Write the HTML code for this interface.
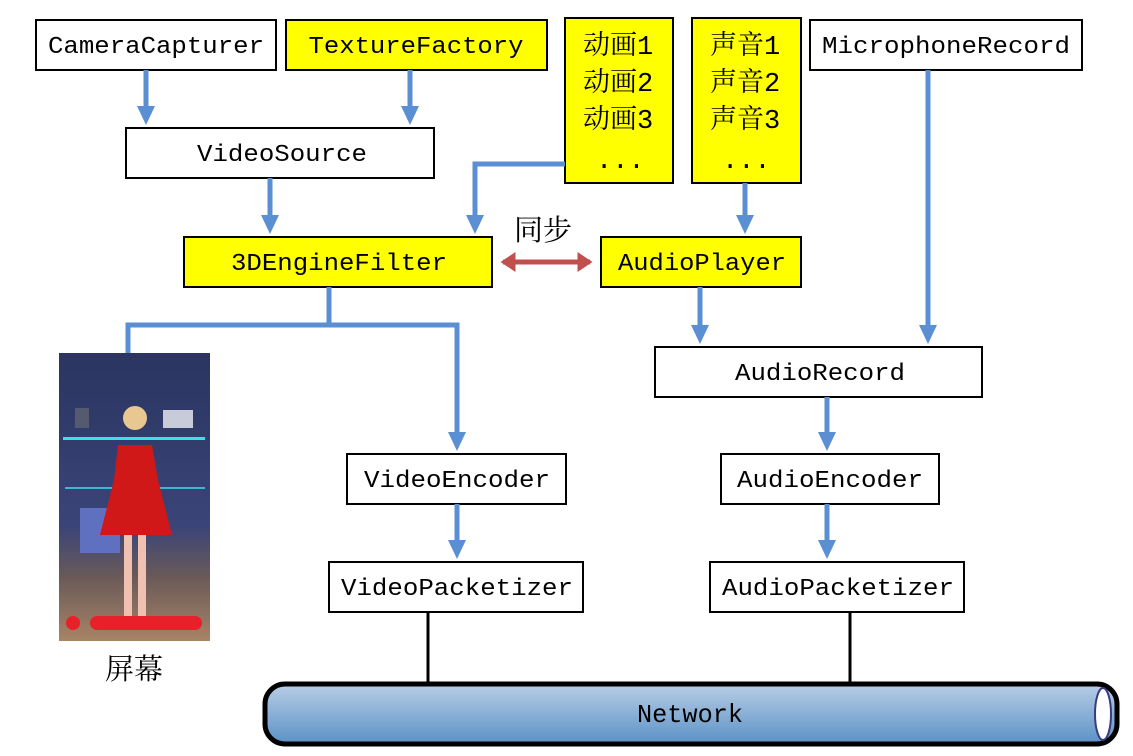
<!DOCTYPE html>
<html><head><meta charset="utf-8"><style>
html,body{margin:0;padding:0;background:#fff;width:1133px;height:756px;overflow:hidden}
text{font-family:"Liberation Mono","Noto Sans CJK SC",monospace;font-size:24px;fill:#000}
.cj{font-family:"Liberation Mono","Noto Serif CJK SC",serif;font-size:27px}
</style></head><body>
<svg width="1133" height="756" viewBox="0 0 1133 756" xmlns="http://www.w3.org/2000/svg">
<defs>
<marker id="ab" markerWidth="4" markerHeight="4" refX="2.2" refY="1.8" orient="auto" markerUnits="strokeWidth"><path d="M0,0 L3.8,1.8 L0,3.6 Z" fill="#5b8fd4"/></marker>
<marker id="ar" markerWidth="4" markerHeight="4" refX="2.5" refY="2" orient="auto-start-reverse" markerUnits="strokeWidth"><path d="M0,0 L3,2 L0,4 Z" fill="#c0504d"/></marker>
<linearGradient id="pipe" x1="0" y1="0" x2="0" y2="1"><stop offset="0" stop-color="#b9cde6"/><stop offset="1" stop-color="#5a92c6"/></linearGradient>
<linearGradient id="room" x1="0" y1="0" x2="0" y2="1"><stop offset="0" stop-color="#2b3560"/><stop offset="0.6" stop-color="#3a4478"/><stop offset="0.78" stop-color="#6a5a58"/><stop offset="1" stop-color="#a88466"/></linearGradient>
</defs>
<g stroke="#000" stroke-width="2">
<rect x="36" y="20" width="240" height="50" fill="#fff"/>
<rect x="286" y="20" width="261" height="50" fill="#ffff00"/>
<rect x="565" y="18" width="108" height="165" fill="#ffff00"/>
<rect x="692" y="18" width="109" height="165" fill="#ffff00"/>
<rect x="810" y="20" width="272" height="50" fill="#fff"/>
<rect x="126" y="128" width="308" height="50" fill="#fff"/>
<rect x="184" y="237" width="308" height="50" fill="#ffff00"/>
<rect x="601" y="237" width="200" height="50" fill="#ffff00"/>
<rect x="655" y="347" width="327" height="50" fill="#fff"/>
<rect x="347" y="454" width="219" height="50" fill="#fff"/>
<rect x="721" y="454" width="218" height="50" fill="#fff"/>
<rect x="329" y="562" width="254" height="50" fill="#fff"/>
<rect x="710" y="562" width="254" height="50" fill="#fff"/>
</g>
<g text-anchor="middle">
<text x="156" y="53" textLength="216" lengthAdjust="spacingAndGlyphs">CameraCapturer</text>
<text x="416" y="53" textLength="215" lengthAdjust="spacingAndGlyphs">TextureFactory</text>
<text x="946" y="53" textLength="248" lengthAdjust="spacingAndGlyphs">MicrophoneRecord</text>
<text x="282" y="161" textLength="170" lengthAdjust="spacingAndGlyphs">VideoSource</text>
<text x="339" y="270" textLength="216" lengthAdjust="spacingAndGlyphs">3DEngineFilter</text>
<text x="702" y="270" textLength="168" lengthAdjust="spacingAndGlyphs">AudioPlayer</text>
<text x="820" y="380" textLength="170" lengthAdjust="spacingAndGlyphs">AudioRecord</text>
<text x="457" y="487" textLength="186" lengthAdjust="spacingAndGlyphs">VideoEncoder</text>
<text x="830" y="487" textLength="186" lengthAdjust="spacingAndGlyphs">AudioEncoder</text>
<text x="457" y="595" textLength="232" lengthAdjust="spacingAndGlyphs">VideoPacketizer</text>
<text x="838" y="595" textLength="232" lengthAdjust="spacingAndGlyphs">AudioPacketizer</text>
</g>
<text class="cj" x="583" y="54">动画1</text>
<text class="cj" x="583" y="91">动画2</text>
<text class="cj" x="583" y="128">动画3</text>
<text class="cj" x="596" y="168">...</text>
<text class="cj" x="710" y="54">声音1</text>
<text class="cj" x="710" y="91">声音2</text>
<text class="cj" x="710" y="128">声音3</text>
<text class="cj" x="722" y="168">...</text>
<text class="cj" x="514" y="240" style="font-size:29px">同步</text>
<text class="cj" x="105" y="679" style="font-size:29px">屏幕</text>
<g stroke="#5b8fd4" stroke-width="5" fill="none">
<line x1="146" y1="70" x2="146" y2="117" marker-end="url(#ab)"/>
<line x1="410" y1="70" x2="410" y2="117" marker-end="url(#ab)"/>
<line x1="270" y1="178" x2="270" y2="226" marker-end="url(#ab)"/>
<polyline points="565,164 475,164 475,226" marker-end="url(#ab)"/>
<line x1="745" y1="183" x2="745" y2="226" marker-end="url(#ab)"/>
<line x1="928" y1="70" x2="928" y2="336" marker-end="url(#ab)"/>
<line x1="700" y1="287" x2="700" y2="336" marker-end="url(#ab)"/>
<line x1="827" y1="397" x2="827" y2="443" marker-end="url(#ab)"/>
<line x1="457" y1="504" x2="457" y2="551" marker-end="url(#ab)"/>
<line x1="827" y1="504" x2="827" y2="551" marker-end="url(#ab)"/>
<polyline points="329,287 329,325 128,325 128,353"/>
<polyline points="329,325 457,325 457,443" marker-end="url(#ab)"/>
</g>
<line x1="503" y1="262" x2="590" y2="262" stroke="#c0504d" stroke-width="5" marker-start="url(#ar)" marker-end="url(#ar)"/>
<g stroke="#000" stroke-width="3">
<line x1="428" y1="612" x2="428" y2="684"/>
<line x1="850" y1="612" x2="850" y2="684"/>
</g>
<rect x="265" y="684" width="852" height="60" rx="20" fill="url(#pipe)" stroke="#000" stroke-width="5"/>
<ellipse cx="1103" cy="714" rx="8" ry="26" fill="#fff" stroke="#3a3a80" stroke-width="2"/>
<text x="690" y="722" text-anchor="middle" textLength="106" lengthAdjust="spacingAndGlyphs" style="font-size:26px">Network</text>
<rect x="59" y="353" width="151" height="288" fill="url(#room)"/>
<rect x="63" y="437" width="142" height="3" fill="#3ee0e8"/>
<rect x="65" y="487" width="140" height="2" fill="#3ab8d0"/>
<rect x="75" y="408" width="14" height="20" fill="#555a70"/>
<rect x="163" y="410" width="30" height="18" fill="#c8ccd8"/>
<rect x="80" y="508" width="40" height="45" fill="#6070c0"/>
<circle cx="135" cy="418" r="12" fill="#e8c890"/>
<path d="M118,445 L152,445 L158,480 L172,535 L100,535 L114,480 Z" fill="#d01818"/>
<rect x="124" y="535" width="8" height="85" fill="#f0c0b0"/>
<rect x="138" y="535" width="8" height="85" fill="#f0c0b0"/>
<rect x="90" y="616" width="112" height="14" rx="7" fill="#e8202a"/>
<circle cx="73" cy="623" r="7" fill="#e8202a"/>
</svg>
</body></html>
